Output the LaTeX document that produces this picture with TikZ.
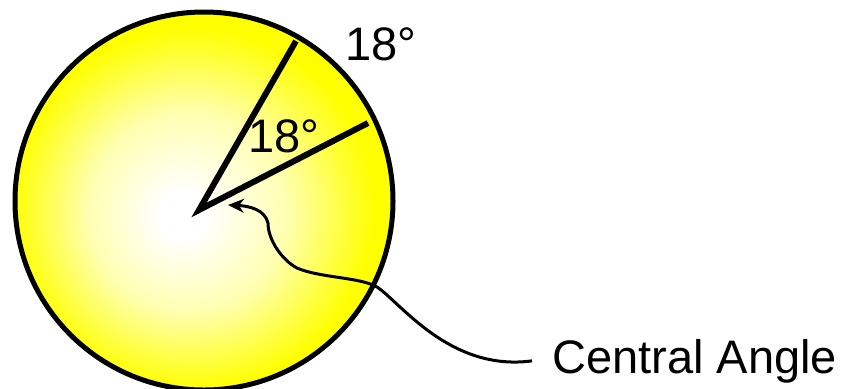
\documentclass[tikz,border=0pt]{standalone}
\usepackage{fontspec}
\setmainfont{Liberation Sans}
\usetikzlibrary{arrows.meta,positioning}
\pgfdeclareradialshading{sunglow}{\pgfpoint{-3bp}{-2bp}}{color(0bp)=(white); color(3bp)=(white); color(13bp)=(yellow!30!white); color(20bp)=(yellow!75!white); color(24bp)=(yellow); color(50bp)=(yellow)}
\tikzset{
  rim/.style={draw, line width=2.5pt, shading=sunglow},
  ray/.style={line width=3pt, line join=miter},
  bigtext/.style={font=\fontsize{23.5}{26}\selectfont, inner sep=0pt},
  pointer/.style={-{Stealth[length=8pt,width=7pt]}, line width=1.5pt}
}
\begin{document}
\begin{tikzpicture}[x=0.5pt, y=-0.5pt]
  \useasboundingbox (0,0) rectangle (846,388);
  \path[rim] (204,201) circle[radius=94.5pt];

  % the two radii
  \coordinate (vtx) at (199,210);
  \coordinate (endA) at (296,41);
  \coordinate (endB) at (368,123);
  \draw[ray] (endA) -- (vtx) -- (endB);

  \node[bigtext] (arcdeg) at (381,44) {18°};
  \node[bigtext] (angdeg) at (284,136) {18°};
  \node[bigtext, anchor=base west, inner xsep=10pt] (lbl) at (532,373) {Central Angle};

  \coordinate (tip) at (228,205);
  \draw[pointer] (lbl.west) .. controls (450,372) and (400,302) .. (377,287)
    .. controls (360,277) and (320,278) .. (297,268)
    .. controls (282,260) and (268,240) .. (268,223)
    .. controls (265,210) and (250,206) .. (tip);
\end{tikzpicture}
\end{document}
